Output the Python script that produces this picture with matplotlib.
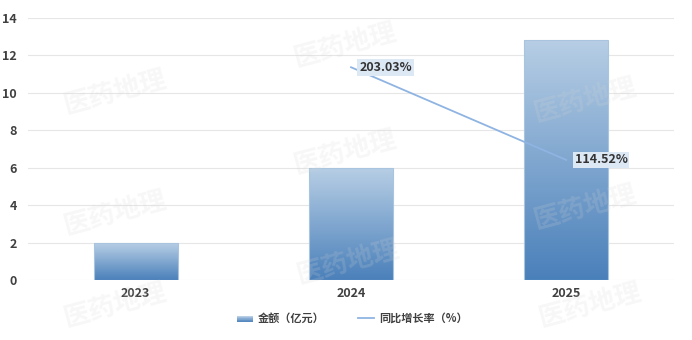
import numpy as np
import matplotlib.pyplot as plt
from matplotlib.colors import LinearSegmentedColormap
from matplotlib.patches import Rectangle
from matplotlib.lines import Line2D
from matplotlib.legend_handler import HandlerBase

plt.rcParams['font.family'] = ['Noto Sans CJK SC', 'DejaVu Sans']

years = ['2023', '2024', '2025']
amount = [1.97, 5.97, 12.81]
growth_years = ['2024', '2025']
growth = [203.03, 114.52]

bar_cmap = LinearSegmentedColormap.from_list('bar', ['#4a80ba', '#b7cee5'])
line_color = '#8fb4e2'
text_color = '#404040'


class GradientHandler(HandlerBase):
    def create_artists(self, legend, orig, xd, yd, w, h, fontsize, trans):
        out = []
        n = 10
        for i in range(n):
            c = bar_cmap(i / (n - 1))
            r = Rectangle((xd, yd + h * i / n), w, h / n + 0.3, facecolor=c,
                          edgecolor='none', transform=trans)
            out.append(r)
        return out


fig = plt.figure(figsize=(6.92, 3.40), dpi=100)
ax = fig.add_axes([0.0405, 0.1765, 0.9335, 0.7705])

x = np.arange(len(years))
w = 0.39
grad = np.linspace(0, 1, 256).reshape(-1, 1)
for xi, v in zip(x, amount):
    ax.imshow(grad, cmap=bar_cmap, origin='lower', aspect='auto',
              extent=(xi - w / 2, xi + w / 2, 0, v), zorder=2)
    ax.add_patch(Rectangle((xi - w / 2, 0), w, v, facecolor='none',
                           edgecolor='#a9c4de', linewidth=0.8, zorder=3))

ax.set_xlim(-0.5, 2.5)
ax.set_ylim(0, 14)
ax.set_yticks(range(0, 15, 2))
ax.set_xticks(x)
ax.set_xticklabels(years)
ax.grid(axis='y', color='#e6e6e6', linewidth=0.8, zorder=0)
ax.set_axisbelow(True)
for s in ax.spines.values():
    s.set_visible(False)
ax.tick_params(length=0, colors=text_color, labelsize=9)
ax.tick_params(axis='y', pad=8)
ax.tick_params(axis='x', pad=5)
for lab in ax.get_xticklabels() + ax.get_yticklabels():
    lab.set_fontweight('bold')

ax2 = ax.twinx()
ax2.set_ylim(0, 250)
ax2.axis('off')
gx = [years.index(y) for y in growth_years]
ax2.plot(gx, growth, color=line_color, linewidth=1.3, zorder=4)
for xi, v in zip(gx, growth):
    ax2.annotate('%.2f%%' % v, (xi, v), xytext=(6, 0), textcoords='offset points',
                 ha='left', va='center', fontsize=9, fontweight='bold',
                 color='#333333', zorder=6,
                 bbox=dict(boxstyle='square,pad=0.15', facecolor='#dde8f5',
                           edgecolor='none'))

# watermarks
marks = [(115, 92), (115, 213), (115, 305), (345, 45), (345, 152), (348, 262),
         (585, 100), (585, 207), (590, 305)]
for px, py in marks:
    fig.text(px / 692, 1 - py / 340, '医药地理', fontsize=19, fontweight='bold',
             color='#d6d6d6', alpha=0.18, rotation=15, ha='center', va='center',
             zorder=10)

handles = [Rectangle((0, 0), 1, 1), Line2D([0], [0], color=line_color, linewidth=1.3)]
leg = fig.legend(handles, ['金额（亿元）', '同比增长率（%）'],
                 handler_map={Rectangle: GradientHandler()},
                 loc='center', bbox_to_anchor=(352 / 692, 1 - 318 / 340), ncol=2,
                 frameon=False, fontsize=8, handlelength=1.5, handleheight=0.5,
                 handletextpad=0.4, columnspacing=3.0)
for t in leg.get_texts():
    t.set_fontweight('bold')
    t.set_color(text_color)

fig.savefig('out.png', dpi=100)
